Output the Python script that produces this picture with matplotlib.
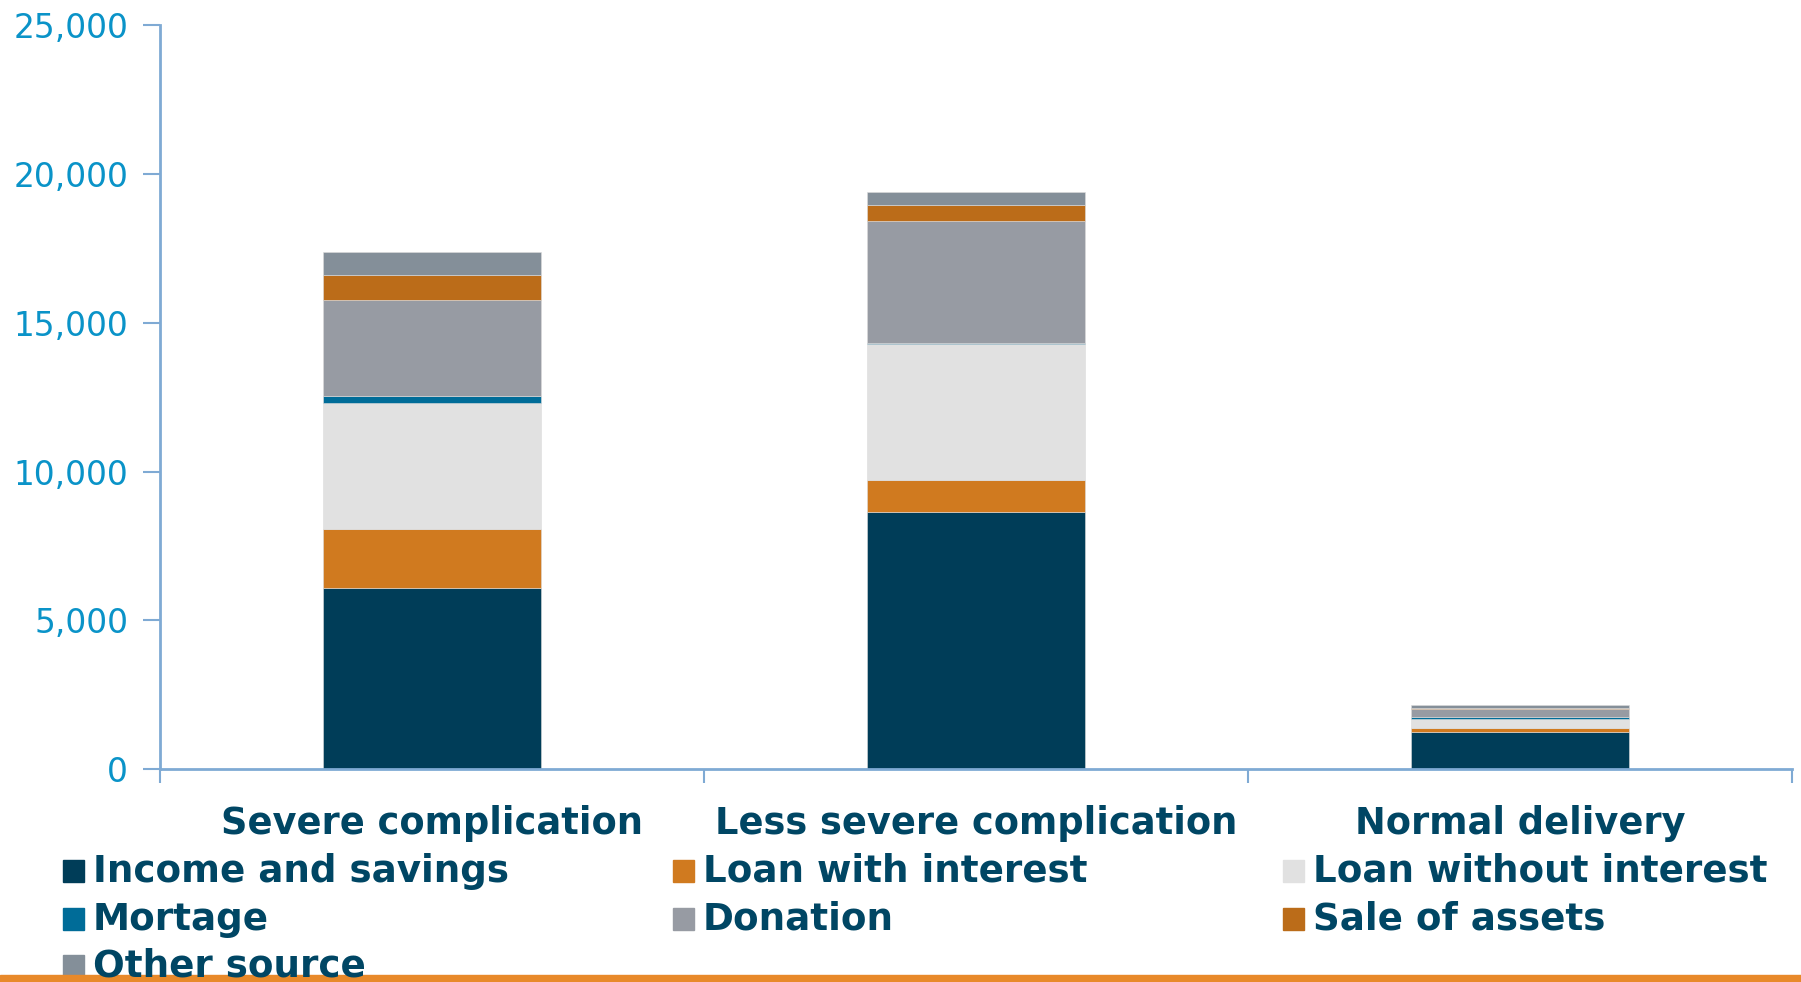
import numpy as np
import matplotlib
matplotlib.use("Agg")
import matplotlib.pyplot as plt
from matplotlib.patches import Rectangle

categories = ["Severe complication", "Less severe complication", "Normal delivery"]
sources = ["Income and savings", "Loan with interest", "Loan without interest",
           "Mortage", "Donation", "Sale of assets", "Other source"]
colors = ["#003D58", "#D07A1F", "#E1E1E1", "#006C98", "#979BA3", "#BB6C19", "#848F99"]

income = [6100, 8630, 1250]
loan_interest = [1970, 1090, 115]
loan_free = [4230, 4560, 320]
mortgage = [255, 55, 50]
donation = [3220, 4090, 280]
sale_assets = [830, 530, 35]
other = [795, 460, 90]
values = [income, loan_interest, loan_free, mortgage, donation, sale_assets, other]

navy = "#004664"
tick_blue = "#0A93C8"
axis_blue = "#7FAAD4"

fig = plt.figure(figsize=(18.01, 9.82), dpi=100)
ax = fig.add_axes([160 / 1801, 1 - 769 / 982, (1792 - 160) / 1801, (769 - 25.5) / 982])

x = np.arange(len(categories))
bottom = np.zeros(len(categories))
for name, vals, c in zip(sources, values, colors):
    ax.bar(x, vals, width=0.4, bottom=bottom, color=c, edgecolor="#dcdcdc",
           linewidth=0.4, label=name)
    bottom += np.array(vals)

ax.set_xlim(-0.5, 2.5)
ax.set_ylim(0, 25000)
ax.set_yticks(range(0, 25001, 5000))
ax.set_yticklabels([f"{v:,}" for v in range(0, 25001, 5000)])
ax.tick_params(axis="y", colors=axis_blue, length=12, width=1.5, labelsize=23.7,
               labelcolor=tick_blue, pad=11)

ax.set_xticks(x)
ax.set_xticklabels(categories, fontsize=26.5, fontweight="bold", color=navy)
ax.tick_params(axis="x", length=0, pad=26)
ax.set_xticks([-0.5, 0.5, 1.5, 2.5], minor=True)
ax.tick_params(axis="x", which="minor", length=10, width=1.5, colors=axis_blue)

for side in ["top", "right"]:
    ax.spines[side].set_visible(False)
for side in ["left", "bottom"]:
    ax.spines[side].set_color(axis_blue)
    ax.spines[side].set_linewidth(2)

# legend laid out in rows of three
col_x = [63, 673, 1283]
row_y = [871, 919, 966]
for i, (name, c) in enumerate(zip(sources, colors)):
    cx = col_x[i % 3]
    cy = row_y[i // 3]
    fig.patches.append(Rectangle((cx / 1801, 1 - (cy + 11) / 982), 21 / 1801, 22 / 982,
                                 transform=fig.transFigure, color=c))
    fig.text((cx + 30) / 1801, 1 - cy / 982, name, fontsize=26.8, fontweight="bold",
             color=navy, va="center", ha="left")

# orange rule along the bottom edge
fig.patches.append(Rectangle((0, 0), 1, 7 / 982, transform=fig.transFigure,
                             color="#E8892A"))

fig.savefig("out.png", dpi=100)
